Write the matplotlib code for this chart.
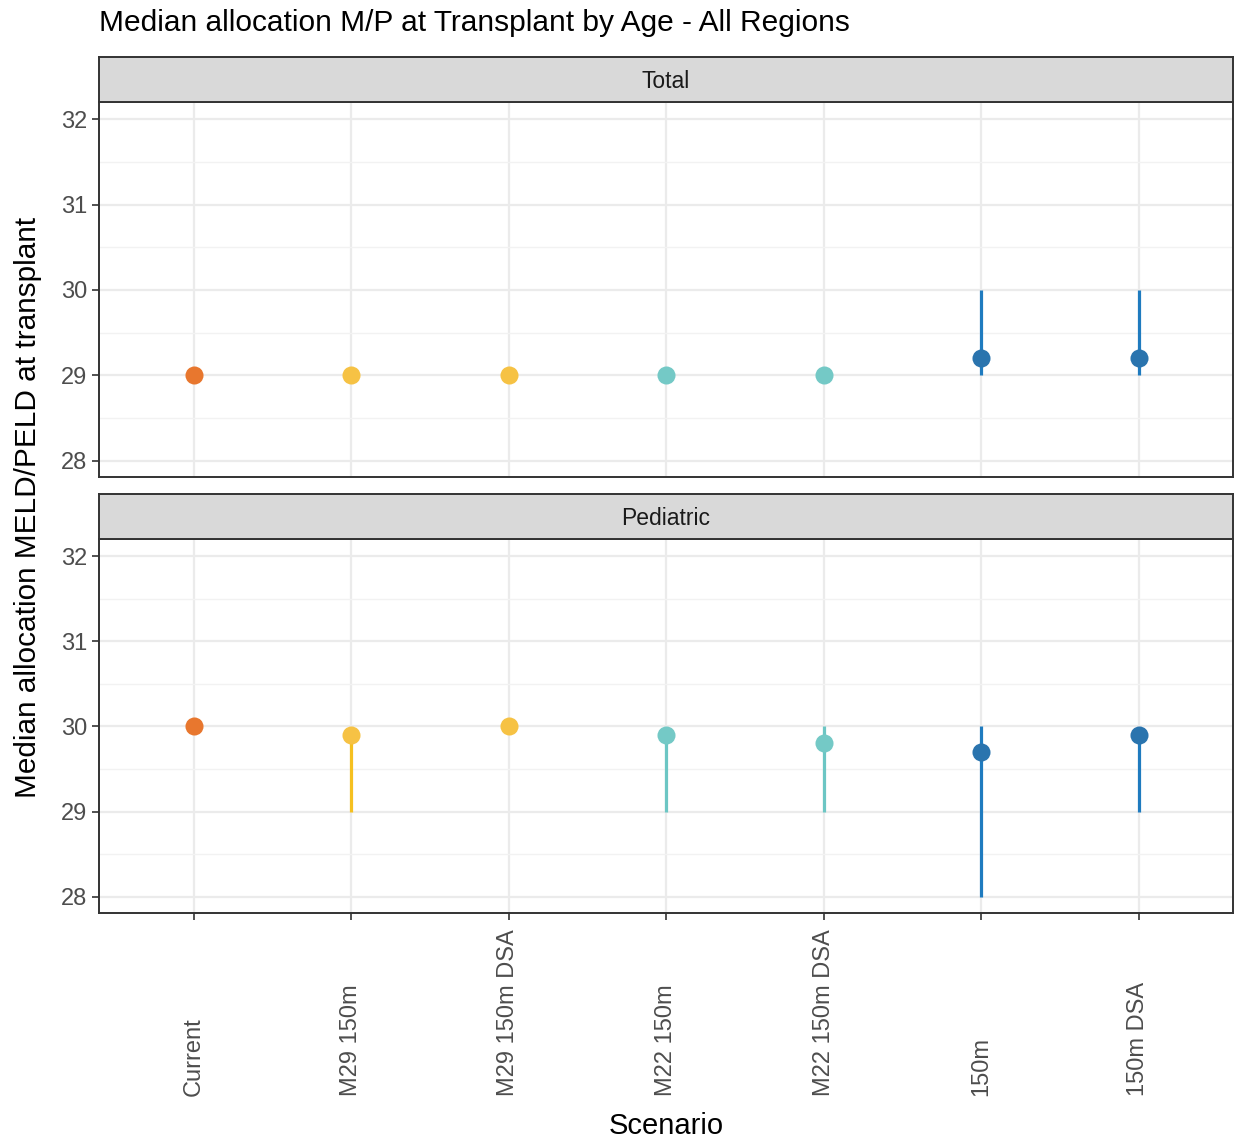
import matplotlib.pyplot as plt

plt.rcParams['font.family'] = ['Liberation Sans', 'DejaVu Sans']

scenarios = ["Current", "M29 150m", "M29 150m DSA", "M22 150m", "M22 150m DSA", "150m", "150m DSA"]
point_colors = ["#E8772E", "#F6C244", "#F6C244", "#74C9C6", "#74C9C6", "#2A74AE", "#2A74AE"]
line_colors = ["#E8772E", "#F5C020", "#F5C020", "#6CC6C4", "#6CC6C4", "#1F7BBF", "#1F7BBF"]

total_med = [29, 29, 29, 29, 29, 29.2, 29.2]
total_lo = [29, 29, 29, 29, 29, 29, 29]
total_hi = [29, 29, 29, 29, 29, 30, 30]

ped_med = [30, 29.9, 30, 29.9, 29.8, 29.7, 29.9]
ped_lo = [30, 29, 30, 29, 29, 28, 29]
ped_hi = [30, 29.9, 30, 29.9, 30, 30, 29.9]

panels = [("Total", total_med, total_lo, total_hi), ("Pediatric", ped_med, ped_lo, ped_hi)]

W, H = 1238, 1141
fig = plt.figure(figsize=(W / 100, H / 100), dpi=100)


def box(l, t, r, b):
    return [l / W, 1 - b / H, (r - l) / W, (b - t) / H]


# pixel positions: (strip top, strip bottom, panel bottom)
layout = [(57, 102, 477), (494, 539, 913)]
x = list(range(1, len(scenarios) + 1))

for i, (name, med, lo, hi) in enumerate(panels):
    st, sb, pb = layout[i]
    ax = fig.add_axes(box(99, sb, 1233, pb))
    ax.set_xlim(0.4, 7.6)
    ax.set_ylim(27.81, 32.2)
    ax.set_yticks([28, 29, 30, 31, 32])
    ax.set_yticks([28.5, 29.5, 30.5, 31.5], minor=True)
    ax.set_xticks(x)
    ax.grid(True, which='major', color='#ebebeb', linewidth=1.6)
    ax.grid(True, which='minor', axis='y', color='#f2f2f2', linewidth=1.0)
    ax.set_axisbelow(True)
    for s in ax.spines.values():
        s.set_color('#333333')
        s.set_linewidth(1.4)
    ax.tick_params(axis='y', which='major', labelsize=17, labelcolor='#4d4d4d', color='#333333', length=5, width=1.2)
    ax.tick_params(axis='y', which='minor', length=0)
    for xi, m, l, h, pc, lc in zip(x, med, lo, hi, point_colors, line_colors):
        ax.plot([xi, xi], [l, h], color=lc, linewidth=2.3, solid_capstyle='butt', zorder=2)
        ax.plot(xi, m, 'o', color=pc, markersize=13, markeredgewidth=0, zorder=3)
    if i == 0:
        ax.tick_params(axis='x', length=0, labelbottom=False)
    else:
        # labels start at a common baseline below the axis (ggplot hjust = 0)
        ax.set_xticklabels(scenarios, rotation=90, fontsize=17, color='#4d4d4d',
                           rotation_mode='anchor', ha='left', va='center')
        ax.tick_params(axis='x', color='#333333', length=5, width=1.2, pad=127)
        ax.set_xlabel("Scenario", fontsize=21, labelpad=11)

    sax = fig.add_axes(box(99, st, 1233, sb))
    sax.set_xticks([])
    sax.set_yticks([])
    sax.set_facecolor('#d9d9d9')
    for s in sax.spines.values():
        s.set_color('#333333')
        s.set_linewidth(1.4)
    sax.text(0.5, 0.45, name, ha='center', va='center', fontsize=16.5, color='#1a1a1a', transform=sax.transAxes)

fig.text(99 / W, 1 - 23 / H, "Median allocation M/P at Transplant by Age - All Regions",
         fontsize=21.5, ha='left', va='center', color='#000000')
fig.text(28 / W, 1 - 507 / H, "Median allocation MELD/PELD at transplant",
         fontsize=21.4, rotation=90, ha='center', va='center')

fig.savefig("out.png", dpi=100)
